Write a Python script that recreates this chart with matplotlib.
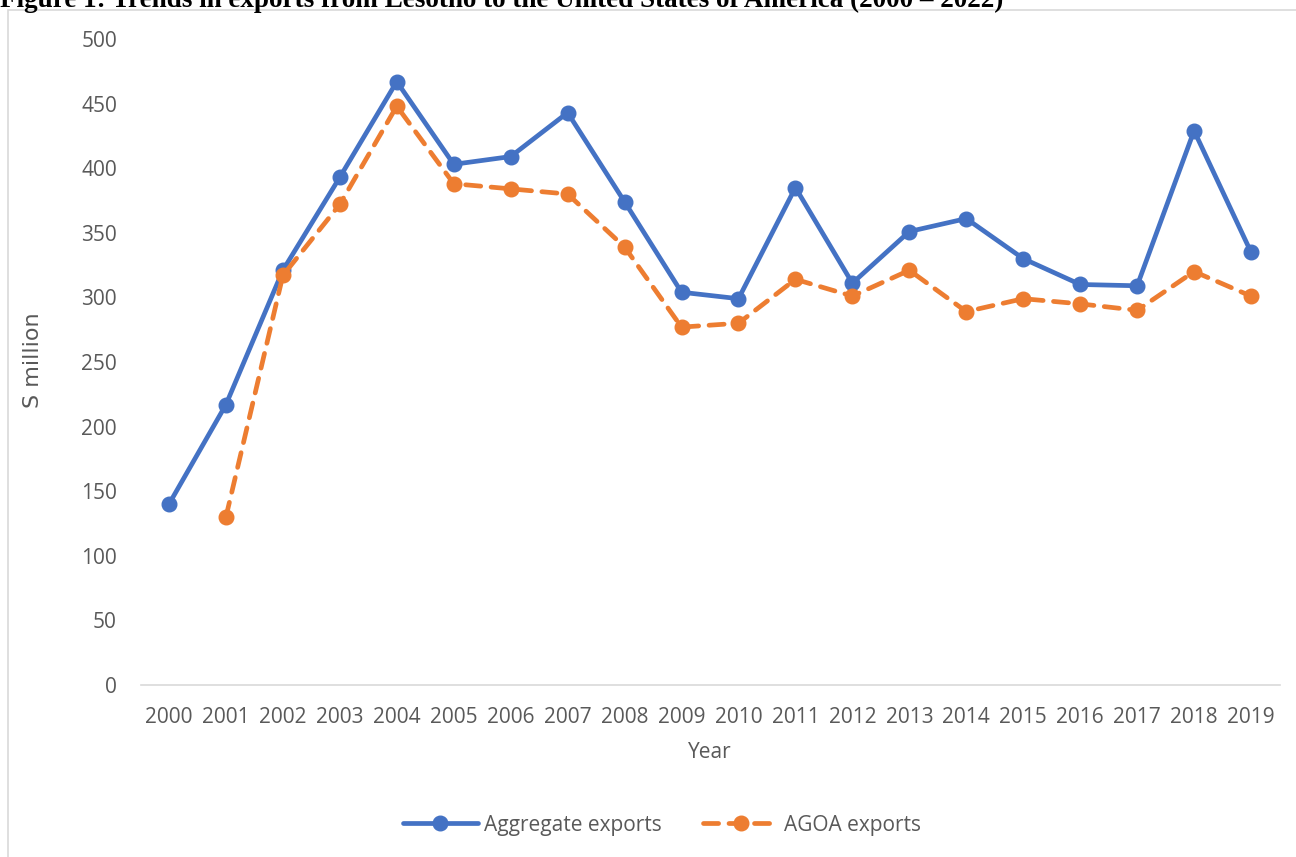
import matplotlib
matplotlib.use("Agg")
import matplotlib.pyplot as plt
from matplotlib.patches import Rectangle

# data
years = ["2000", "2001", "2002", "2003", "2004", "2005", "2006", "2007", "2008", "2009",
         "2010", "2011", "2012", "2013", "2014", "2015", "2016", "2017", "2018", "2019"]
aggregate = [140, 217, 321, 393, 467, 403, 409, 443, 374, 304,
             299, 385, 311, 351, 361, 330, 310, 309, 429, 335]
agoa = [None, 130, 317, 372, 448, 388, 384, 380, 339, 277,
        280, 314, 301, 321, 289, 299, 295, 290, 320, 301]
yticks = [0, 50, 100, 150, 200, 250, 300, 350, 400, 450, 500]

W, H = 1296, 857
fig = plt.figure(figsize=(W / 100, H / 100), dpi=100)
ax = fig.add_axes([140.5 / W, 1 - 685 / H, 1139 / W, 646 / H])

x = list(range(len(years)))
agoa_x = [i for i, v in zip(x, agoa) if v is not None]
agoa_y = [v for v in agoa if v is not None]

ax.plot(x, aggregate, color='#4472C4', linewidth=3.4, marker='o', markersize=10.5,
        label='Aggregate exports', solid_capstyle='round', zorder=2)
ax.plot(agoa_x, agoa_y, color='#ED7D31', linewidth=3.4, marker='o', markersize=10.5,
        dashes=(3.2, 2.2), dash_capstyle='round', label='AGOA exports', zorder=3)

ax.set_xlim(-0.5, len(years) - 0.5)
ax.set_ylim(0, 500)
ax.set_xticks(x)
ax.set_xticklabels(years)
ax.set_yticks(yticks)
ax.tick_params(length=0, labelsize=15, labelcolor='#595959')
ax.tick_params(axis='x', pad=16)
ax.tick_params(axis='y', pad=17)
for lab in ax.get_xticklabels() + ax.get_yticklabels():
    lab.set_family('Open Sans')

for s in ['top', 'right', 'left']:
    ax.spines[s].set_visible(False)
ax.spines['bottom'].set_color('#D9D9D9')
ax.spines['bottom'].set_linewidth(1.2)

fig.text(33 / W, 1 - 360 / H, 'S million', rotation=90, ha='center', va='center',
         fontsize=16, color='#595959', family='Liberation Sans Narrow')
fig.text(710 / W, 1 - 753 / H, 'Year', ha='center', va='center',
         fontsize=15, color='#595959', family='Open Sans')

leg = fig.legend(loc='center', bbox_to_anchor=(662 / W, 1 - 825 / H), ncol=2, frameon=False,
                 handlelength=3.6, columnspacing=2.0, handletextpad=0.3,
                 prop={'family': 'Open Sans', 'size': 15})
for t in leg.get_texts():
    t.set_color('#595959')

# chart area border and clipped caption
fig.patches.append(Rectangle((8 / W, -0.1), 1.2, 1.1 - 10 / H, transform=fig.transFigure,
                             fill=False, edgecolor='#D9D9D9', linewidth=1.2))
fig.text(0, 1 - 7 / H, 'Figure 1: Trends in exports from Lesotho to the United States of America (2000 \u2013 2022)',
         ha='left', va='baseline', fontsize=19.5, fontweight='bold', family='Liberation Serif')

fig.savefig('out.png', dpi=100)
